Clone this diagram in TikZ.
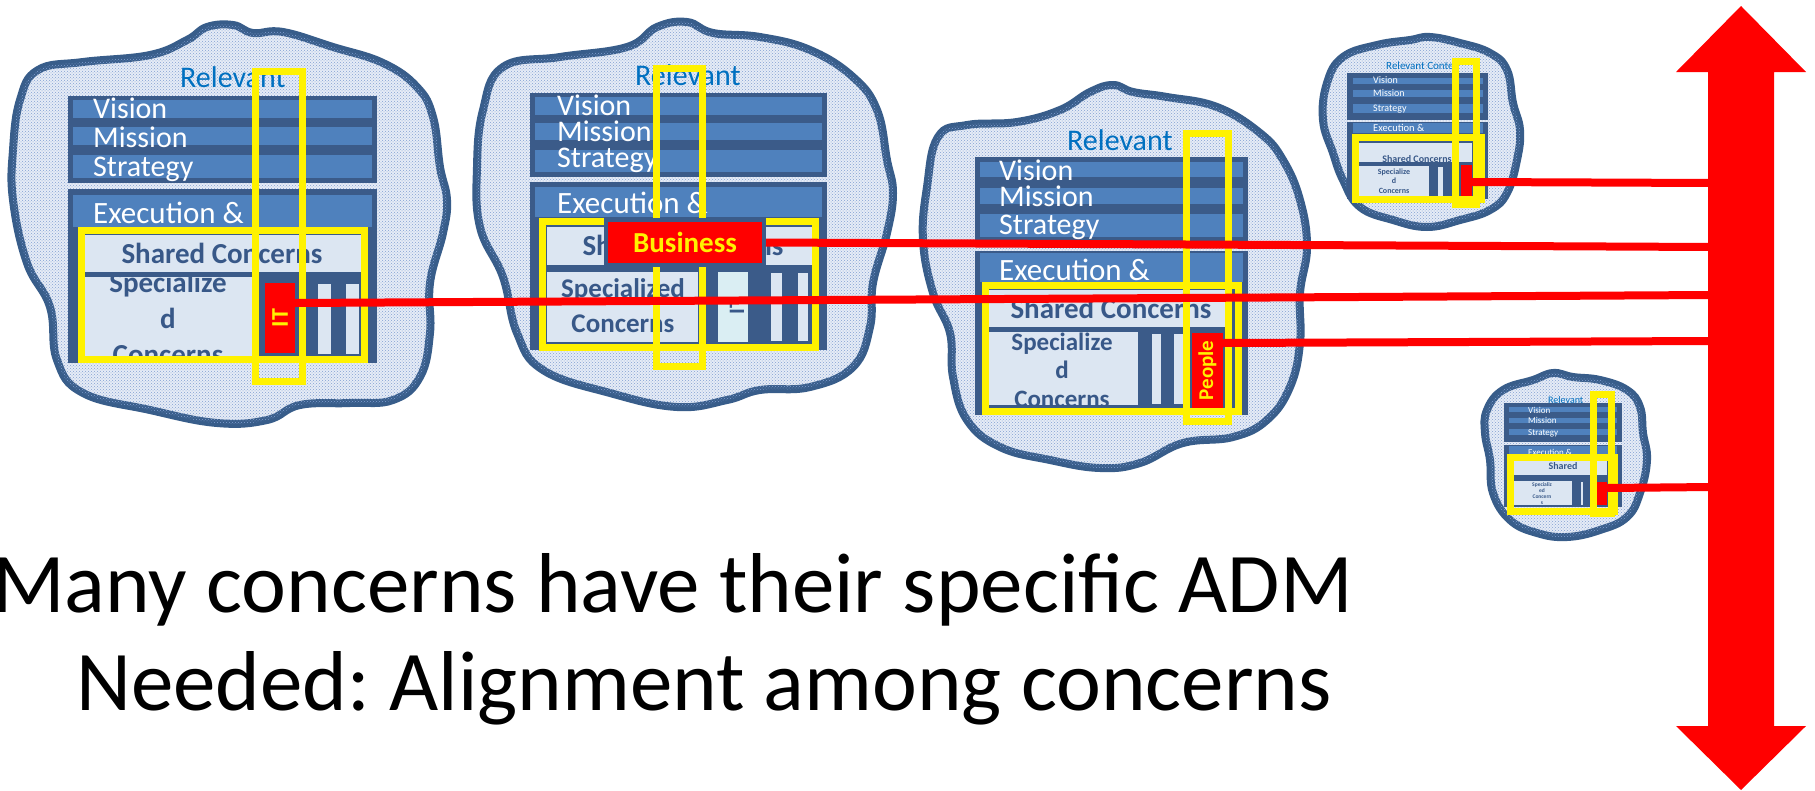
\documentclass[tikz,border=0pt]{standalone}
\usepackage{fontspec}
\usepackage{graphicx}
\setmainfont{Carlito}
\usetikzlibrary{patterns}
\frenchspacing

\definecolor{cloudline}{RGB}{56,93,138}
\definecolor{cloudfill}{RGB}{230,236,246}
\definecolor{dotblue}{RGB}{130,160,210}
\definecolor{blockblue}{RGB}{59,91,137}
\definecolor{bandblue}{RGB}{79,129,189}
\definecolor{paleblue}{RGB}{220,230,242}
\definecolor{cyanpale}{RGB}{218,238,243}
\definecolor{relblue}{RGB}{0,112,192}
\definecolor{textblue}{RGB}{56,88,136}

\newcommand{\pxfont}[1]{\fontsize{#1}{#1}\selectfont}

\tikzset{
  cloud/.style={draw=cloudline, line width=8, fill=cloudfill,
    postaction={pattern=crosshatch dots, pattern color=dotblue}},
  block/.style={fill=blockblue},
  band/.style={fill=bandblue},
  pale/.style={fill=paleblue},
  column/.style={fill=paleblue, draw=blockblue, line width=2},
  frame/.style={draw=yellow, line width=7},
  link/.style={draw=red, line width=8},
  wtext/.style={text=white, anchor=base west, inner sep=0},
  stext/.style={text=textblue, anchor=base, inner sep=0},
  reltext/.style={text=relblue, anchor=base west, inner sep=0},
  tag/.style={fill=red, text=yellow, inner sep=0},
}

\begin{document}
\begin{tikzpicture}[x=1pt,y=-1pt]
\useasboundingbox (0,0) rectangle (1815,790);

% cloud 1 (IT)
\draw[cloud] plot[smooth cycle, tension=0.7] coordinates {(38,70) (83,62) (150,55) (187,40) (207,27) (233,25) (253,33) (283,32) (333,47) (383,63) (417,87) (433,117) (440,167) (447,200) (443,233) (430,283) (430,333) (420,377) (393,400) (350,403) (300,405) (267,420) (217,423) (150,410) (83,393) (57,360) (50,307) (27,263) (13,200) (13,150) (20,100)};
\fill[block] (68,96) rectangle (377,183);
\fill[band] (73,100) rectangle (372,118);
\fill[band] (73,127) rectangle (372,145);
\fill[band] (73,155) rectangle (372,178);
\fill[block] (68,189) rectangle (377,363);
\fill[band] (73,195) rectangle (372,227);
\fill[pale] (85,235) rectangle (362,272);
\fill[pale] (85,277) rectangle (252,356);
\draw[column] (317,283) rectangle (332,355);
\draw[column] (345,283) rectangle (360,355);
\node[reltext, font=\pxfont{30}] (rel1) at (180,87) {Relevant};
\node[wtext, font=\pxfont{30}] (vis1) at (93,118) {Vision};
\node[wtext, font=\pxfont{30}] (mis1) at (93,147) {Mission};
\node[wtext, font=\pxfont{30}] (str1) at (93,176) {Strategy};
\node[wtext, font=\pxfont{31}] (exe1) at (93,223) {Execution \&};
\node[stext, font=\bfseries\pxfont{29}] (sha1) at (222,263) {Shared Concerns};
\begin{scope}
  \clip (85,277) rectangle (252,356);
  \node[stext, font=\bfseries\pxfont{29}] (spa1) at (168,292) {Specialize};
  \node[stext, font=\bfseries\pxfont{29}] (spb1) at (168,328) {d};
  \node[stext, font=\bfseries\pxfont{29}] (spc1) at (168,364) {Concerns};
\end{scope}
\node[tag, minimum width=30, minimum height=70, font=\bfseries\pxfont{24}] (it) at (280,318) {\rotatebox{90}{IT}};
\draw[frame] (81.5,230.5) rectangle (364.5,359.5);
\draw[frame] (255.5,71.5) rectangle (302.5,381.5);

% cloud 2 (Business)
\draw[cloud] plot[smooth cycle, tension=0.7] coordinates {(503,67) (560,57) (627,47) (657,27) (687,22) (713,33) (760,37) (810,50) (853,77) (877,110) (887,160) (893,193) (887,233) (873,283) (870,327) (853,367) (810,387) (760,390) (727,400) (677,407) (610,393) (543,370) (517,333) (503,277) (480,227) (477,167) (483,110)};
\fill[block] (530,93) rectangle (827,177);
\fill[band] (535,97) rectangle (822,115);
\fill[band] (535,123) rectangle (822,140);
\fill[band] (535,150) rectangle (822,172);
\fill[block] (530,182) rectangle (827,350);
\fill[band] (535,187) rectangle (822,217);
\fill[pale] (547,227) rectangle (812,265);
\fill[pale] (547,272) rectangle (698,342);
\fill[cyanpale] (718,272) rectangle (748,342);
\draw[column] (770,272) rectangle (783,342);
\draw[column] (797,272) rectangle (809,342);
\node[reltext, font=\pxfont{30}] (rel2) at (635,85) {Relevant};
\node[wtext, font=\pxfont{30}] (vis2) at (557,115) {Vision};
\node[wtext, font=\pxfont{30}] (mis2) at (557,141) {Mission};
\node[wtext, font=\pxfont{30}] (str2) at (557,167) {Strategy};
\node[wtext, font=\pxfont{31}] (exe2) at (557,213) {Execution \&};
\node[stext, font=\bfseries\pxfont{29}] (sha2) at (683,255) {Shared Concerns};
\node[stext, font=\bfseries\pxfont{27}] (spa2) at (623,297) {Specialized};
\node[stext, font=\bfseries\pxfont{27}] (spb2) at (623,332) {Concerns};
\node[text=textblue, inner sep=0, font=\bfseries\pxfont{22}] (it2) at (737,306) {\rotatebox{90}{IT}};
\draw[frame] (542.5,221.5) rectangle (815.5,347.5);
\draw[frame] (656.5,68.5) rectangle (702.5,366.5);

% cloud 3 (People)
\draw[cloud] plot[smooth cycle, tension=0.7] coordinates {(938,137) (967,125) (1017,122) (1060,110) (1090,92) (1113,85) (1133,92) (1167,97) (1217,107) (1260,133) (1283,160) (1300,200) (1307,247) (1300,293) (1300,343) (1290,387) (1267,420) (1233,437) (1183,443) (1140,463) (1100,468) (1050,460) (1000,447) (967,420) (953,377) (950,333) (933,293) (923,240) (927,187)};
\fill[block] (975,157) rectangle (1248,242);
\fill[band] (980,162) rectangle (1243,177);
\fill[band] (980,188) rectangle (1243,204);
\fill[band] (980,214) rectangle (1243,237);
\fill[block] (975,251) rectangle (1248,415);
\fill[band] (980,253) rectangle (1243,282);
\fill[pale] (989,290) rectangle (1225,327);
\fill[pale] (989,332) rectangle (1138,405);
\draw[column] (1151,333) rectangle (1162,405);
\draw[column] (1173,333) rectangle (1185,405);
\node[reltext, font=\pxfont{30}] (rel3) at (1067,150) {Relevant};
\node[wtext, font=\pxfont{30}] (vis3) at (999,180) {Vision};
\node[wtext, font=\pxfont{30}] (mis3) at (999,206) {Mission};
\node[wtext, font=\pxfont{30}] (str3) at (999,234) {Strategy};
\node[wtext, font=\pxfont{31}] (exe3) at (999,280) {Execution \&};
\node[stext, font=\bfseries\pxfont{29}] (sha3) at (1111,318) {Shared Concerns};
\begin{scope}
  \clip (989,332) rectangle (1138,405);
  \node[stext, font=\bfseries\pxfont{25}] (spa3) at (1062,350) {Specialize};
  \node[stext, font=\bfseries\pxfont{25}] (spb3) at (1062,378) {d};
  \node[stext, font=\bfseries\pxfont{25}] (spc3) at (1062,407) {Concerns};
\end{scope}
\node[tag, minimum width=31, minimum height=75, font=\bfseries\pxfont{21}] (ppl) at (1207.5,370.5) {\rotatebox{90}{People}};
\draw[frame] (985.5,285.5) rectangle (1238.5,411.5);
\draw[frame] (1186.5,133.5) rectangle (1228.5,421.5);

% cloud 4 (small, top)
\draw[cloud] plot[smooth cycle, tension=0.7] coordinates {(1327,83) (1343,57) (1377,45) (1410,40) (1430,37) (1460,43) (1490,53) (1507,70) (1513,103) (1520,130) (1517,160) (1507,193) (1490,210) (1460,220) (1427,227) (1393,220) (1360,207) (1343,180) (1333,153) (1323,120)};
\fill[block] (1347,73) rectangle (1488,120);
\fill[band] (1353,78) rectangle (1483,84);
\fill[band] (1353,90) rectangle (1483,97);
\fill[band] (1353,104) rectangle (1483,113);
\fill[block] (1347,122) rectangle (1488,199);
\fill[band] (1353,123) rectangle (1483,133);
\fill[pale] (1359,143) rectangle (1472,162);
\fill[pale] (1359,166) rectangle (1429,196);
\draw[column, line width=1] (1437,166) rectangle (1443,196);
\node[reltext, font=\pxfont{11}] (rel4) at (1386,69) {Relevant Conte};
\node[wtext, font=\pxfont{10}] (vis4) at (1373,83) {Vision};
\node[wtext, font=\pxfont{10}] (mis4) at (1373,96) {Mission};
\node[wtext, font=\pxfont{10}] (str4) at (1373,111) {Strategy};
\node[wtext, font=\pxfont{10.5}] (exe4) at (1373,131) {Execution \&};
\begin{scope}
  \clip (1359,143) rectangle (1472,161);
  \node[stext, font=\bfseries\pxfont{10}] (sha4) at (1417,162) {Shared Concerns};
\end{scope}
\node[stext, font=\bfseries\pxfont{8}] (spa4) at (1394,174) {Specialize};
\node[stext, font=\bfseries\pxfont{8}] (spb4) at (1394,183.5) {d};
\node[stext, font=\bfseries\pxfont{8}] (spc4) at (1394,193) {Concerns};
\node[tag, minimum width=11, minimum height=32] (tag4) at (1466.5,181) {};
\draw[frame] (1355.5,137.5) rectangle (1481.5,199.5);
\draw[frame] (1455.5,61.5) rectangle (1476.5,204.5);

% cloud 5 (small, bottom)
\draw[cloud] plot[smooth cycle, tension=0.7] coordinates {(1487,410) (1503,390) (1533,380) (1553,373) (1573,377) (1600,380) (1627,390) (1640,407) (1643,433) (1647,460) (1640,493) (1627,517) (1600,530) (1567,537) (1537,533) (1510,520) (1493,493) (1490,460) (1485,433)};
\fill[block] (1504,403) rectangle (1622,442);
\fill[band] (1509,407) rectangle (1617,412);
\fill[band] (1509,418) rectangle (1617,423);
\fill[band] (1509,429) rectangle (1617,435);
\fill[block] (1504,445) rectangle (1622,507);
\fill[band] (1509,446) rectangle (1617,457);
\fill[pale] (1513,460) rectangle (1607,475);
\fill[pale] (1513,481) rectangle (1572,505);
\draw[column, line width=1] (1580,481) rectangle (1583,505);
\node[reltext, font=\pxfont{10}] (rel5) at (1548,403) {Relevant};
\node[wtext, font=\pxfont{9}] (vis5) at (1528,413) {Vision};
\node[wtext, font=\pxfont{9}] (mis5) at (1528,423) {Mission};
\node[wtext, font=\pxfont{9}] (str5) at (1528,435) {Strategy};
\node[wtext, font=\pxfont{9}] (exe5) at (1528,455) {Execution \&};
\node[stext, font=\bfseries\pxfont{10}] (sha5) at (1563,469) {Shared};
\node[stext, font=\bfseries\pxfont{5.5}] (spa5) at (1542,486) {Specializ};
\node[stext, font=\bfseries\pxfont{5.5}] (spb5) at (1542,492) {ed};
\node[stext, font=\bfseries\pxfont{5.5}] (spc5) at (1542,498) {Concern};
\node[stext, font=\bfseries\pxfont{5.5}] (spd5) at (1542,504) {s};
\node[tag, minimum width=10, minimum height=23] (tag5) at (1602,493.5) {};
\draw[frame] (1510.5,457.5) rectangle (1614.5,511.5);
\draw[frame] (1593.5,394.5) rectangle (1611.5,513.5);

% alignment arrow and links
\coordinate (endit) at (1712,295);
\coordinate (endbus) at (1712,247);
\coordinate (endppl) at (1712,341);
\coordinate (end4) at (1712,183);
\coordinate (end5) at (1712,487);
\draw[link] ([yshift=15]it.east) -- (endit);
\draw[link] ([yshift=27.5]ppl.east) -- (endppl);
\draw[link] ([yshift=-1]tag4.east) -- (end4);
\draw[link] ([yshift=5.5]tag5.east) -- (end5);
\node[tag, draw=blockblue, line width=4, minimum width=158, minimum height=45, font=\bfseries\pxfont{29}] (bus) at (685,242.5) {Business};
\draw[link] (bus.east) -- (endbus);
\fill[red] (1741,6) -- (1806,72) -- (1774,72) -- (1774,726) -- (1806,726) -- (1741,790) -- (1676,726) -- (1708,726) -- (1708,72) -- (1676,72) -- cycle;

% message
\node[anchor=base west, inner sep=0, font=\pxfont{85}] (msg1) at (-8,612) {Many concerns have their specific ADM};
\node[anchor=base west, inner sep=0, font=\pxfont{85}] (msg2) at (76,710) {Needed: Alignment among concerns};
\end{tikzpicture}
\end{document}
